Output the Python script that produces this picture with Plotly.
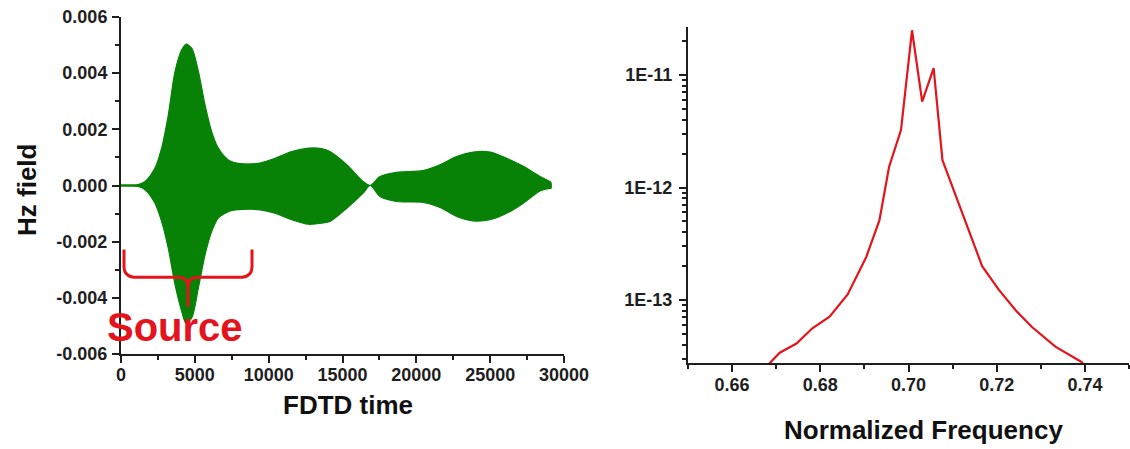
import plotly.graph_objects as go

# ---- FDTD time trace: envelope of the Hz field oscillation ----
time_steps = [0, 600, 1150, 1625, 2300, 2750, 3200, 3660, 4110, 4400, 4790, 5240,
              5690, 6140, 6590, 7270, 7950, 9300, 10430, 11560, 12690, 13590,
              14150, 15290, 16400, 16880, 17540, 18670, 20450, 21600, 22730,
              23860, 24990, 26120, 27250, 28380, 29050, 29120]
hz_upper = [0.00002, 0.00002, 0.00003, 0.00014, 0.00062, 0.00133, 0.0025, 0.00406,
            0.00483, 0.00503, 0.00489, 0.00406, 0.00287, 0.00192, 0.00133, 0.00091,
            0.00079, 0.00079, 0.00097, 0.00121, 0.00133, 0.00131,
            0.00121, 0.00074, 0.00014, 0.0, 0.00032, 0.00047, 0.00053, 0.00074,
            0.00103, 0.00119, 0.00119, 0.00097, 0.00068, 0.00032, 0.00014, 0.0001]
hz_lower = [-0.00002, -0.00002, -0.00003, -0.00015, -0.00063, -0.00128, -0.00223,
            -0.00353, -0.00448, -0.0049, -0.00472, -0.00365, -0.00247, -0.00164,
            -0.00116, -0.00093, -0.00086, -0.00086, -0.00099, -0.00122, -0.00138,
            -0.00134, -0.00128, -0.00081, -0.00027, 0.0, -0.00039, -0.00057,
            -0.0006, -0.00078, -0.0011, -0.00126, -0.00122, -0.00099, -0.00063,
            -0.00019, -0.0001, -0.0001]

hz_ticks = [-0.006, -0.004, -0.002, 0.0, 0.002, 0.004, 0.006]
hz_tick_text = ["%.3f" % v for v in hz_ticks]
time_ticks = [0, 5000, 10000, 15000, 20000, 25000, 30000]
time_tick_text = [str(v) for v in time_ticks]

# ---- Spectrum of the recorded field ----
norm_freq = [0.6675, 0.6708, 0.6746, 0.6782, 0.6821, 0.6862, 0.6904,
             0.6934, 0.6956, 0.6983, 0.7008, 0.7031, 0.7057, 0.7077, 0.7088,
             0.7122, 0.7167, 0.7205, 0.7243, 0.7280, 0.7333, 0.7393, 0.7402]
spectrum = [2.5e-14, 3.4e-14, 4.1e-14, 5.6e-14, 7.1e-14, 1.12e-13,
            2.4e-13, 5.1e-13, 1.53e-12, 3.24e-12, 2.5e-11, 5.8e-12, 1.15e-11,
            1.75e-12, 1.34e-12, 5.9e-13, 2.0e-13, 1.23e-13, 8.1e-14, 5.75e-14,
            3.85e-14, 2.8e-14, 2.5e-14]

freq_ticks = [0.66, 0.68, 0.70, 0.72, 0.74]
freq_tick_text = ["%.2f" % v for v in freq_ticks]
spec_ticks = [1e-13, 1e-12, 1e-11]
spec_tick_text = ["1E-13", "1E-12", "1E-11"]
spec_minor = [k * 10.0 ** n for n in (-14, -13, -12, -11) for k in range(2, 10)]

W, H = 1130, 449
FONT = "Liberation Sans, Arial, sans-serif"
AX = "#1e1e1e"
GREEN = "#078207"
RED = "#e3141c"

fig = go.Figure()

fig.add_trace(go.Scatter(
    x=time_steps + time_steps[::-1],
    y=hz_upper + hz_lower[::-1],
    fill="toself", fillcolor=GREEN, mode="lines",
    line=dict(color=GREEN, width=1.2, shape="spline", smoothing=0.8),
    xaxis="x", yaxis="y", showlegend=False, hoverinfo="skip"))

fig.add_trace(go.Scatter(
    x=norm_freq, y=spectrum, mode="lines",
    line=dict(color=RED, width=2.2),
    xaxis="x2", yaxis="y2", showlegend=False))

tickfont = dict(family=FONT, size=18, color=AX, weight="bold")
common = dict(showline=True, linecolor=AX, linewidth=2, ticks="outside",
              tickcolor=AX, tickwidth=1.5, ticklen=7, showgrid=False,
              zeroline=False, tickfont=tickfont, automargin=False)

fig.update_layout(
    width=W, height=H,
    margin=dict(l=0, r=0, t=0, b=0),
    paper_bgcolor="white", plot_bgcolor="white",
    xaxis=dict(domain=[121 / W, 564 / W], range=[0, 30000], anchor="y",
               tickmode="array", tickvals=time_ticks, ticktext=time_tick_text,
               minor=dict(ticks="outside", ticklen=4, tickcolor=AX, dtick=2500, tick0=0),
               ticklabelstandoff=-4, **common),
    yaxis=dict(domain=[(H - 354) / H, (H - 17) / H], range=[-0.006, 0.006], anchor="x",
               tickmode="array", tickvals=hz_ticks, ticktext=hz_tick_text,
               minor=dict(ticks="outside", ticklen=4, tickcolor=AX, dtick=0.001, tick0=0),
               ticklabelstandoff=1, **common),
    xaxis2=dict(domain=[688 / W, 1129 / W], range=[0.65, 0.75], anchor="y2",
                tickmode="array", tickvals=freq_ticks, ticktext=freq_tick_text,
                minor=dict(ticks="outside", ticklen=4, tickcolor=AX, dtick=0.01, tick0=0.65),
                ticklabelstandoff=-3, **common),
    yaxis2=dict(domain=[(H - 363) / H, (H - 27) / H], type="log",
                range=[-13.56, -10.573], anchor="x2",
                tickmode="array", tickvals=spec_ticks, ticktext=spec_tick_text,
                minor=dict(ticks="outside", ticklen=4, tickcolor=AX,
                           tickmode="array", tickvals=spec_minor),
                ticklabelstandoff=3, **common),
)

title_font = dict(family=FONT, size=26, color="#111111", weight="bold")
center = dict(xref="paper", yref="paper", xanchor="center", yanchor="middle",
              showarrow=False)
fig.add_annotation(text="Hz field", x=27 / W, y=(H - 190) / H, textangle=-90,
                   font=title_font, **center)
fig.add_annotation(text="FDTD time", x=348 / W, y=(H - 405) / H,
                   font=title_font, **center)
fig.add_annotation(text="Normalized Frequency", x=923 / W, y=(H - 430) / H,
                   font=title_font, **center)

# Brace marking the excitation pulse, with its label
fig.add_shape(
    type="path", xref="x", yref="y",
    path=("M 203,-0.00228 L 203,-0.00288 Q 203,-0.00327 1083,-0.00327 "
          "L 3860,-0.00327 Q 4537,-0.00327 4537,-0.00362 L 4537,-0.00432 "
          "M 4537,-0.00362 Q 4537,-0.00327 5214,-0.00327 L 8000,-0.00327 "
          "Q 8871,-0.00327 8871,-0.00288 L 8871,-0.00228"),
    line=dict(color=RED, width=3))
fig.add_annotation(text="Source", x=175 / W, y=(H - 327) / H,
                   font=dict(family=FONT, size=40, color=RED, weight="bold"), **center)

fig.write_html("out.html")
